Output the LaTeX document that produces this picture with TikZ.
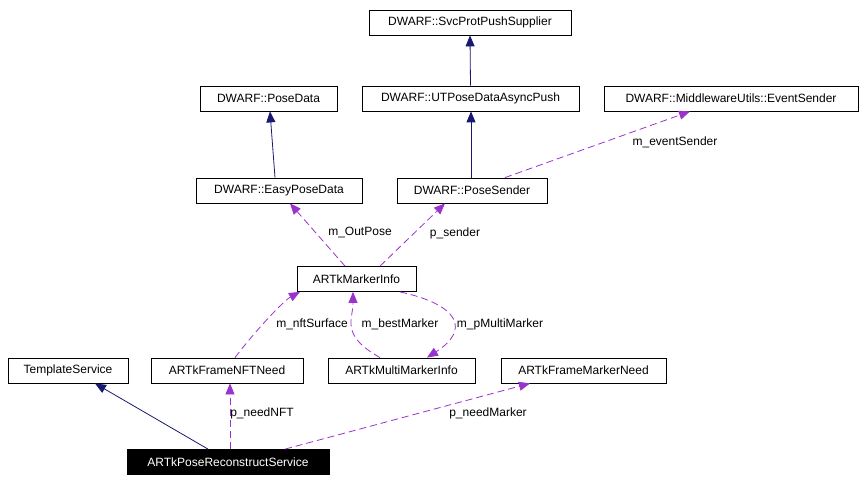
\documentclass[tikz,border=0pt]{standalone}
\usepackage{fontspec}
\setmainfont{Liberation Sans}
\usetikzlibrary{arrows.meta}
\definecolor{inh}{RGB}{25,25,112}
\definecolor{use}{RGB}{153,51,204}
\begin{document}
\begin{tikzpicture}[x=1pt,y=-1pt,
  box/.style={draw,line width=0.8pt,minimum height=25pt,inner sep=0pt,font=\fontsize{12}{14}\selectfont,anchor=center},
  lbl/.style={font=\fontsize{12}{14}\selectfont},
  inhe/.style={draw=inh,line width=0.8pt,-{Triangle[length=11pt,width=9pt]}},
  usee/.style={draw=use,line width=0.8pt,dash pattern=on 7pt off 4pt,-{Triangle[length=11pt,width=9pt]}}]
\useasboundingbox (0,0) rectangle (867,481);
\node[box,minimum width=202pt] (svc) at (470,22.5) {DWARF::SvcProtPushSupplier};
\node[box,minimum width=137pt] (pd) at (268.5,98.5) {DWARF::PoseData};
\node[box,minimum width=217pt] (ut) at (470.5,98.5) {DWARF::UTPoseDataAsyncPush};
\node[box,minimum width=254pt] (es) at (731,98.5) {DWARF::MiddlewareUtils::EventSender};
\node[box,minimum width=166pt] (epd) at (279,190.5) {DWARF::EasyPoseData};
\node[box,minimum width=150pt] (ps) at (472,190.5) {DWARF::PoseSender};
\node[box,minimum width=119pt] (mi) at (356.5,279) {ARTkMarkerInfo};
\node[box,minimum width=120pt] (ts) at (68,370.5) {TemplateService};
\node[box,minimum width=152pt] (nft) at (227,370.5) {ARTkFrameNFTNeed};
\node[box,minimum width=147pt] (mmi) at (401.5,370.5) {ARTkMultiMarkerInfo};
\node[box,minimum width=165pt] (fmn) at (583.5,370.5) {ARTkFrameMarkerNeed};
\node[box,minimum width=202pt,fill=black,text=white] (prs) at (228,462) {ARTkPoseReconstructService};
\draw[inhe] (ut.north) -- (svc.south);
\draw[inhe] (epd.north -| 275,0) -- (pd.south -| 270,0);
\draw[inhe] (ps.north -| 471,0) -- (ut.south -| 471,0);
\draw[usee] (ps.north -| 505,0) -- (es.south -| 690,0);
\node[lbl] (l0) at (675,142) {m\_eventSender};
\draw[usee] (mi.north -| 345,0) -- (epd.south -| 290,0);
\node[lbl] (l1) at (360,233) {m\_OutPose};
\draw[usee] (mi.north -| 380,0) -- (ps.south -| 445,0);
\node[lbl] (l2) at (455,233) {p\_sender};
\draw[usee] (nft.north -| 235,0) .. controls (260,325) and (285,300) .. (mi.south -| 300,0);
\node[lbl] (l3) at (312,324) {m\_nftSurface};
\draw[usee] (mmi.north -| 380,0) .. controls (340,335) and (353,320) .. (mi.south -| 353,0);
\node[lbl] (l4) at (400,324) {m\_bestMarker};
\draw[usee] (mi.south -| 400,0) .. controls (460,305) and (470,330) .. (mmi.north -| 427,0);
\node[lbl] (l5) at (500,324) {m\_pMultiMarker};
\draw[inhe] (prs.north -| 208,0) -- (ts.south -| 95,0);
\draw[usee] (prs.north -| 230,0) -- (nft.south -| 230,0);
\node[lbl] (l6) at (262,413) {p\_needNFT};
\draw[usee] (prs.north -| 285,0) -- (fmn.south -| 530,0);
\node[lbl] (l7) at (488,413) {p\_needMarker};
\end{tikzpicture}
\end{document}
